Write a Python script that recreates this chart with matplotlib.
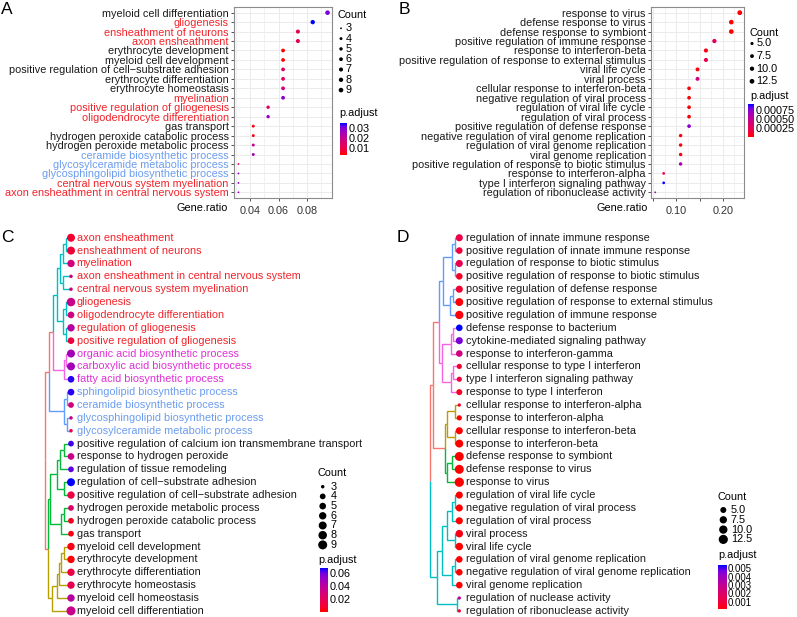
import numpy as np
import matplotlib
matplotlib.use("Agg")
import matplotlib.pyplot as plt
from matplotlib.colors import LinearSegmentedColormap, Normalize
from matplotlib.cm import ScalarMappable

plt.rcParams['font.family'] = ['Liberation Sans', 'DejaVu Sans']
plt.rcParams['font.size'] = 7.8
FS = 7.8

# ---------------- panel A : dot plot ----------------
a_terms = ["myeloid cell differentiation", "gliogenesis", "ensheathment of neurons",
           "axon ensheathment", "erythrocyte development", "myeloid cell development",
           "positive regulation of cell\u2212substrate adhesion", "erythrocyte differentiation",
           "erythrocyte homeostasis", "myelination", "positive regulation of gliogenesis",
           "oligodendrocyte differentiation", "gas transport", "hydrogen peroxide catabolic process",
           "hydrogen peroxide metabolic process", "ceramide biosynthetic process",
           "glycosylceramide metabolic process", "glycosphingolipid biosynthetic process",
           "central nervous system myelination", "axon ensheathment in central nervous system"]
a_counts = [9, 8, 7, 7, 6, 6, 6, 6, 6, 6, 5, 5, 4, 4, 4, 4, 3, 3, 3, 3]
a_ratio = [0.0947, 0.0842, 0.0737, 0.0737, 0.0632, 0.0632, 0.0632, 0.0632, 0.0632, 0.0632,
           0.0526, 0.0526, 0.0421, 0.0421, 0.0421, 0.0421, 0.0316, 0.0316, 0.0316, 0.0316]
a_padj = [0.0302, 0.035, 0.012, 0.012, 0.003, 0.0035, 0.0142, 0.0136, 0.0174, 0.029,
          0.0126, 0.0270, 0.004, 0.0045, 0.0206, 0.0254, 0.011, 0.027, 0.028, 0.028]
a_label_col = ['k', 'r', 'r', 'r', 'k', 'k', 'k', 'k', 'k', 'r',
               'r', 'r', 'k', 'k', 'k', 'b', 'b', 'b', 'r', 'r']

# ---------------- panel B : dot plot ----------------
b_terms = ["response to virus", "defense response to virus", "defense response to symbiont",
           "positive regulation of immune response", "response to interferon-beta",
           "positive regulation of response to external stimulus", "viral life cycle",
           "viral process", "cellular response to interferon-beta",
           "negative regulation of viral process", "regulation of viral life cycle",
           "regulation of viral process", "positive regulation of defense response",
           "negative regulation of viral genome replication",
           "regulation of viral genome replication", "viral genome replication",
           "positive regulation of response to biotic stimulus", "response to interferon-alpha",
           "type I interferon signaling pathway", "regulation of ribonuclease activity"]
b_counts = [13, 12, 12, 10, 9, 9, 8, 8, 7, 7, 7, 7, 7, 6, 6, 6, 6, 4, 4, 3]
b_ratio = [0.2364, 0.2182, 0.2182, 0.1818, 0.1636, 0.1636, 0.1455, 0.1455, 0.1273, 0.1273,
           0.1273, 0.1273, 0.1273, 0.1091, 0.1091, 0.1091, 0.1091, 0.0727, 0.0727, 0.0545]
b_padj = [0.000001, 0.000002, 0.000002, 0.00028, 0.00005, 0.00023, 0.00004, 0.00041,
          0.00002, 0.00002, 0.00002, 0.00002, 0.00074, 0.00003, 0.00003, 0.00004,
          0.0006, 0.00018, 0.00092, 0.00069]

# ---------------- panel C : tree plot ----------------
c_terms = ["axon ensheathment", "ensheathment of neurons", "myelination",
           "axon ensheathment in central nervous system", "central nervous system myelination",
           "gliogenesis", "oligodendrocyte differentiation", "regulation of gliogenesis",
           "positive regulation of gliogenesis", "organic acid biosynthetic process",
           "carboxylic acid biosynthetic process", "fatty acid biosynthetic process",
           "sphingolipid biosynthetic process", "ceramide biosynthetic process",
           "glycosphingolipid biosynthetic process", "glycosylceramide metabolic process",
           "positive regulation of calcium ion transmembrane transport",
           "response to hydrogen peroxide", "regulation of tissue remodeling",
           "regulation of cell\u2212substrate adhesion",
           "positive regulation of cell\u2212substrate adhesion",
           "hydrogen peroxide metabolic process", "hydrogen peroxide catabolic process",
           "gas transport", "myeloid cell development", "erythrocyte development",
           "erythrocyte differentiation", "erythrocyte homeostasis",
           "myeloid cell homeostasis", "myeloid cell differentiation"]
c_counts = [7, 7, 6, 3, 3, 8, 5, 6, 5, 7, 7, 5, 5, 4, 3, 3, 4, 5, 4, 7,
            6, 4, 4, 4, 6, 6, 6, 6, 6, 9]
c_padj = [0.0086, 0.0106, 0.031, 0.031, 0.031, 0.034, 0.031, 0.041, 0.0127, 0.048,
          0.048, 0.065, 0.065, 0.031, 0.031, 0.014, 0.063, 0.034, 0.061, 0.068,
          0.014, 0.026, 0.006, 0.0045, 0.004, 0.0005, 0.014, 0.017, 0.041, 0.034]
c_label_col = ['r'] * 9 + ['m'] * 3 + ['b'] * 4 + ['k'] * 14
c_clusters = ['cyan'] * 9 + ['pink'] * 3 + ['blue'] * 4 + ['green'] * 8 + ['olive'] * 6
# nested merges: (height, left, right); leaves are row numbers
c_tree = (26, (21.7, (17.7, (14.3, (11, (8, (5, 0, 1), 2), (8, 3, 4)),
                                    (8, (5, 5, 6), (5, 7, 8))),
                             (7, (5, 9, 10), 11)),
                  (7, (4, 12, 13), (4, 14, 15))),
          (22.7, (21, (14.3, (11, (6.7, 16, 17), 18), (7, 19, 20)), (10, (6.7, 21, 22), 23)),
                 (19.3, (14, (12, (10, (7, 24, 25), 26), 27), 28), 29)))

# ---------------- panel D : tree plot ----------------
d_terms = ["regulation of innate immune response", "positive regulation of innate immune response",
           "regulation of response to biotic stimulus",
           "positive regulation of response to biotic stimulus",
           "positive regulation of defense response",
           "positive regulation of response to external stimulus",
           "positive regulation of immune response", "defense response to bacterium",
           "cytokine-mediated signaling pathway", "response to interferon-gamma",
           "cellular response to type I interferon", "type I interferon signaling pathway",
           "response to type I interferon", "cellular response to interferon-alpha",
           "response to interferon-alpha", "cellular response to interferon-beta",
           "response to interferon-beta", "defense response to symbiont",
           "defense response to virus", "response to virus", "regulation of viral life cycle",
           "negative regulation of viral process", "regulation of viral process",
           "viral process", "viral life cycle", "regulation of viral genome replication",
           "negative regulation of viral genome replication", "viral genome replication",
           "regulation of nuclease activity", "regulation of ribonuclease activity"]
d_counts = [7, 6, 7, 6, 7, 9, 10, 6, 7, 6, 4, 4, 5, 3, 4, 7, 9, 12, 12, 13,
            7, 7, 7, 8, 8, 6, 6, 6, 3, 3]
d_padj = [0.0012, 0.001, 0.0014, 0.0006, 0.00074, 0.00023, 0.00028, 0.0054, 0.0046, 0.0025,
          0.0007, 0.00092, 0.0006, 0.0007, 0.00018, 0.0001, 0.0001, 0.00009, 0.00009, 0.00009,
          0.0001, 0.0001, 0.0001, 0.00041, 0.0001, 0.0001, 0.0001, 0.0001, 0.003, 0.00069]
d_clusters = ['blue'] * 7 + ['pink'] * 6 + ['olive'] * 4 + ['green'] * 3 + ['cyan'] * 10
d_tree = (29.3, (26, (20, (16.6, (7.6, (4.3, 0, 1), (4.3, 2, 3)), (9.3, (6, 4, 5), 6)),
                          (17.3, (8.6, (6, 7, 8), 9), (8.6, (6, 10, 11), 12))),
                     (14.3, (12.6, (4.3, 13, 14), (4.3, 15, 16)), (12.3, (7.3, 17, 18), 19))),
          (22.6, (17.6, (12.6, (7.6, (4.3, 20, 21), 22), (4.3, 23, 24)),
                        (7.6, (4.3, 25, 26), 27)),
                 (2.6, 28, 29)))

# colours
text_cols = {'k': '#1A1A1A', 'r': '#F2232A', 'm': '#E030D8', 'b': '#6B9CF0'}
branch_cols = {'olive': '#B79F00', 'green': '#00BA38', 'cyan': '#00BFC4',
               'blue': '#619CFF', 'pink': '#F564E3'}
root_col = '#F8766D'
# red -> blue gradient (interpolated in Lab like ggplot)
cmap = LinearSegmentedColormap.from_list('padj', [
    (0.0, '#FF0000'), (0.125, '#F40031'), (0.25, '#E80050'), (0.5, '#CA0088'),
    (0.75, '#9A00C3'), (0.875, '#7300E0'), (1.0, '#0000FF')])

W, H = 797, 617
fig = plt.figure(figsize=(W / 100, H / 100), dpi=100)
ov = fig.add_axes([0, 0, 1, 1])
ov.set_xlim(0, W)
ov.set_ylim(H, 0)
ov.axis('off')


def px_rect(left, top, right, bottom):
    return [left / W, 1 - bottom / H, (right - left) / W, (bottom - top) / H]


def dot_diam(counts, cmin, cmax, dmin, dmax):
    frac = (np.asarray(counts, float) - cmin) / (cmax - cmin)
    return dmin + (dmax - dmin) * np.sqrt(np.clip(frac, 0, 1))


def area(d):
    # pixel diameter -> scatter size in pt^2
    return (np.asarray(d) * 0.72) ** 2


def dotplot(rect, terms, counts, ratio, padj, lab_cols, drange, major, major_lab, minor):
    ax = fig.add_axes(px_rect(*rect))
    n = len(terms)
    y = np.arange(n)
    norm = Normalize(min(padj), max(padj))
    d = dot_diam(counts, min(counts), max(counts), *drange)
    ax.scatter(ratio, y, s=area(d), c=padj, cmap=cmap, norm=norm, linewidths=0, zorder=3)
    lo, hi = min(ratio), max(ratio)
    pad = (hi - lo) * 0.05
    ax.set_xlim(lo - pad, hi + pad)
    ax.set_ylim(n - 0.4, -0.6)
    ax.set_yticks(y)
    ax.set_yticklabels(terms)
    for lab, c in zip(ax.get_yticklabels(), lab_cols):
        lab.set_color(text_cols[c])
    ax.set_xticks(major)
    ax.set_xticklabels(major_lab)
    ax.set_xticks(minor, minor=True)
    ax.grid(True, which='major', color='#EBEBEB', lw=0.7)
    ax.xaxis.grid(True, which='minor', color='#EBEBEB', lw=0.5)
    ax.set_axisbelow(True)
    for s in ax.spines.values():
        s.set_color('#8C8C8C')
        s.set_linewidth(0.8)
    ax.tick_params(length=2.5, width=0.6, color='#333333', labelsize=FS, pad=1.2)
    ax.tick_params(axis='x', which='minor', length=0)
    ax.tick_params(axis='x', labelcolor='#333333', pad=3)
    return norm


def draw_tree(ax, tree, clusters):
    def y_of(nd):
        return nd if isinstance(nd, int) else (y_of(nd[1]) + y_of(nd[2])) / 2

    def h_of(nd):
        return 0 if isinstance(nd, int) else nd[0]

    def leaves(nd):
        return [nd] if isinstance(nd, int) else leaves(nd[1]) + leaves(nd[2])

    def col_of(nd):
        cl = set(clusters[i] for i in leaves(nd))
        return branch_cols[cl.pop()] if len(cl) == 1 else root_col

    def walk(nd):
        if isinstance(nd, int):
            return
        h, y = nd[0], y_of(nd)
        for ch in nd[1:]:
            ax.plot([-h, -h, -h_of(ch)], [y, y_of(ch), y_of(ch)], color=col_of(ch),
                    lw=1.0, solid_joinstyle='miter', solid_capstyle='butt', zorder=1)
            walk(ch)

    walk(tree)


def tree_panel(rect, tip_x, tree, terms, counts, padj, clusters, lab_cols, drange, text_dx):
    ax = fig.add_axes(px_rect(*rect))
    ax.set_xlim(rect[0] - tip_x, rect[2] - tip_x)
    n = len(terms)
    ax.set_ylim(n - 0.5, -0.5)
    ax.axis('off')
    draw_tree(ax, tree, clusters)
    norm = Normalize(min(padj), max(padj))
    d = dot_diam(counts, min(counts), max(counts), *drange)
    ax.scatter(np.zeros(n), np.arange(n), s=area(d), c=padj, cmap=cmap, norm=norm,
               linewidths=0, zorder=3, clip_on=False)
    for i, term in enumerate(terms):
        ax.text(text_dx, i, term, color=text_cols[lab_cols[i]], va='center', ha='left',
                fontsize=FS)
    return norm


def count_legend(x, y_title, y0, step, values, labels, cmin, cmax, drange, dot_dx, lab_dx):
    ov.text(x, y_title, 'Count', va='center', ha='left', fontsize=FS)
    d = dot_diam(values, cmin, cmax, *drange)
    ys = y0 + step * np.arange(len(values))
    ov.scatter(np.full(len(values), x + dot_dx), ys, s=area(d), c='black', linewidths=0)
    for yy, lab in zip(ys, labels):
        ov.text(x + lab_dx, yy, lab, va='center', ha='left', fontsize=FS)


def padj_legend(x, y_title, rect, norm, ticks, labels, fs=FS):
    ov.text(x, y_title, 'p.adjust', va='center', ha='left', fontsize=FS)
    cax = fig.add_axes(px_rect(*rect))
    cb = fig.colorbar(ScalarMappable(norm=norm, cmap=cmap), cax=cax)
    cb.outline.set_visible(False)
    cb.set_ticks(ticks)
    cb.set_ticklabels(labels)
    cax.tick_params(length=0, pad=1, labelsize=fs)


# panel A
norm_a = dotplot((234, 7, 332, 198), a_terms, a_counts, a_ratio, a_padj, a_label_col,
                 (1.8, 4.6), [0.04, 0.06, 0.08], ['0.04', '0.06', '0.08'],
                 [0.03, 0.05, 0.07, 0.09])
ov.text(228, 208, 'Gene.ratio', ha='right', va='center', fontsize=FS)
count_legend(338, 15, 28.3, 10.3, [3, 4, 5, 6, 7, 8, 9], ['3', '4', '5', '6', '7', '8', '9'],
             min(a_counts), max(a_counts), (1.8, 4.6), 3, 7.5)
padj_legend(339, 113, (340, 123, 347, 155), norm_a, [0.01, 0.02, 0.03],
            ['0.01', '0.02', '0.03'])

# panel B
norm_b = dotplot((651, 7, 744, 198), b_terms, b_counts, b_ratio, b_padj, ['k'] * 20,
                 (1.8, 4.8), [0.05, 0.10, 0.15, 0.20], ['', '0.10', '', '0.20'],
                 [0.075, 0.125, 0.175, 0.225])
ov.text(648, 208, 'Gene.ratio', ha='right', va='center', fontsize=FS)
count_legend(750, 33, 43.5, 12.6, [5.0, 7.5, 10.0, 12.5], ['5.0', '7.5', '10.0', '12.5'],
             min(b_counts), max(b_counts), (1.8, 4.8), 2, 6.5)
padj_legend(750, 96, (748, 104, 754, 137), norm_b, [0.00025, 0.0005, 0.00075],
            ['0.00025', '0.00050', '0.00075'])

# panel C
norm_c = tree_panel((40, 231.3, 400, 617.3), 71, c_tree, c_terms, c_counts, c_padj,
                    c_clusters, c_label_col, (3.5, 9.0), 5.7)
count_legend(318, 473.3, 486.7, 9.7, [3, 4, 5, 6, 7, 8, 9], ['3', '4', '5', '6', '7', '8', '9'],
             min(c_counts), max(c_counts), (3.5, 9.0), 4.7, 13)
padj_legend(318, 560, (319.5, 567.7, 328, 611.7), norm_c, [0.02, 0.04, 0.06],
            ['0.02', '0.04', '0.06'])

# panel D
norm_d = tree_panel((420, 231.3, 797, 617.3), 459.3, d_tree, d_terms, d_counts, d_padj,
                    d_clusters, ['k'] * 30, (3.3, 9.3), 6.4)
count_legend(718, 496.7, 510, 9.8, [5.0, 7.5, 10.0, 12.5], ['5.0', '7.5', '10.0', '12.5'],
             min(d_counts), max(d_counts), (3.3, 9.3), 5.3, 13)
padj_legend(718, 555, (718, 565, 726.5, 609.3), norm_d,
            [0.001, 0.002, 0.003, 0.004, 0.005], ['0.001', '0.002', '0.003', '0.004', '0.005'],
            fs=6.9)

# panel letters
for x, y, letter in [(1, 9, 'A'), (399, 9, 'B'), (1, 238, 'C'), (397, 238, 'D')]:
    ov.text(x, y, letter, fontsize=12.5, va='center', ha='left')

fig.savefig('out.png', dpi=100)
